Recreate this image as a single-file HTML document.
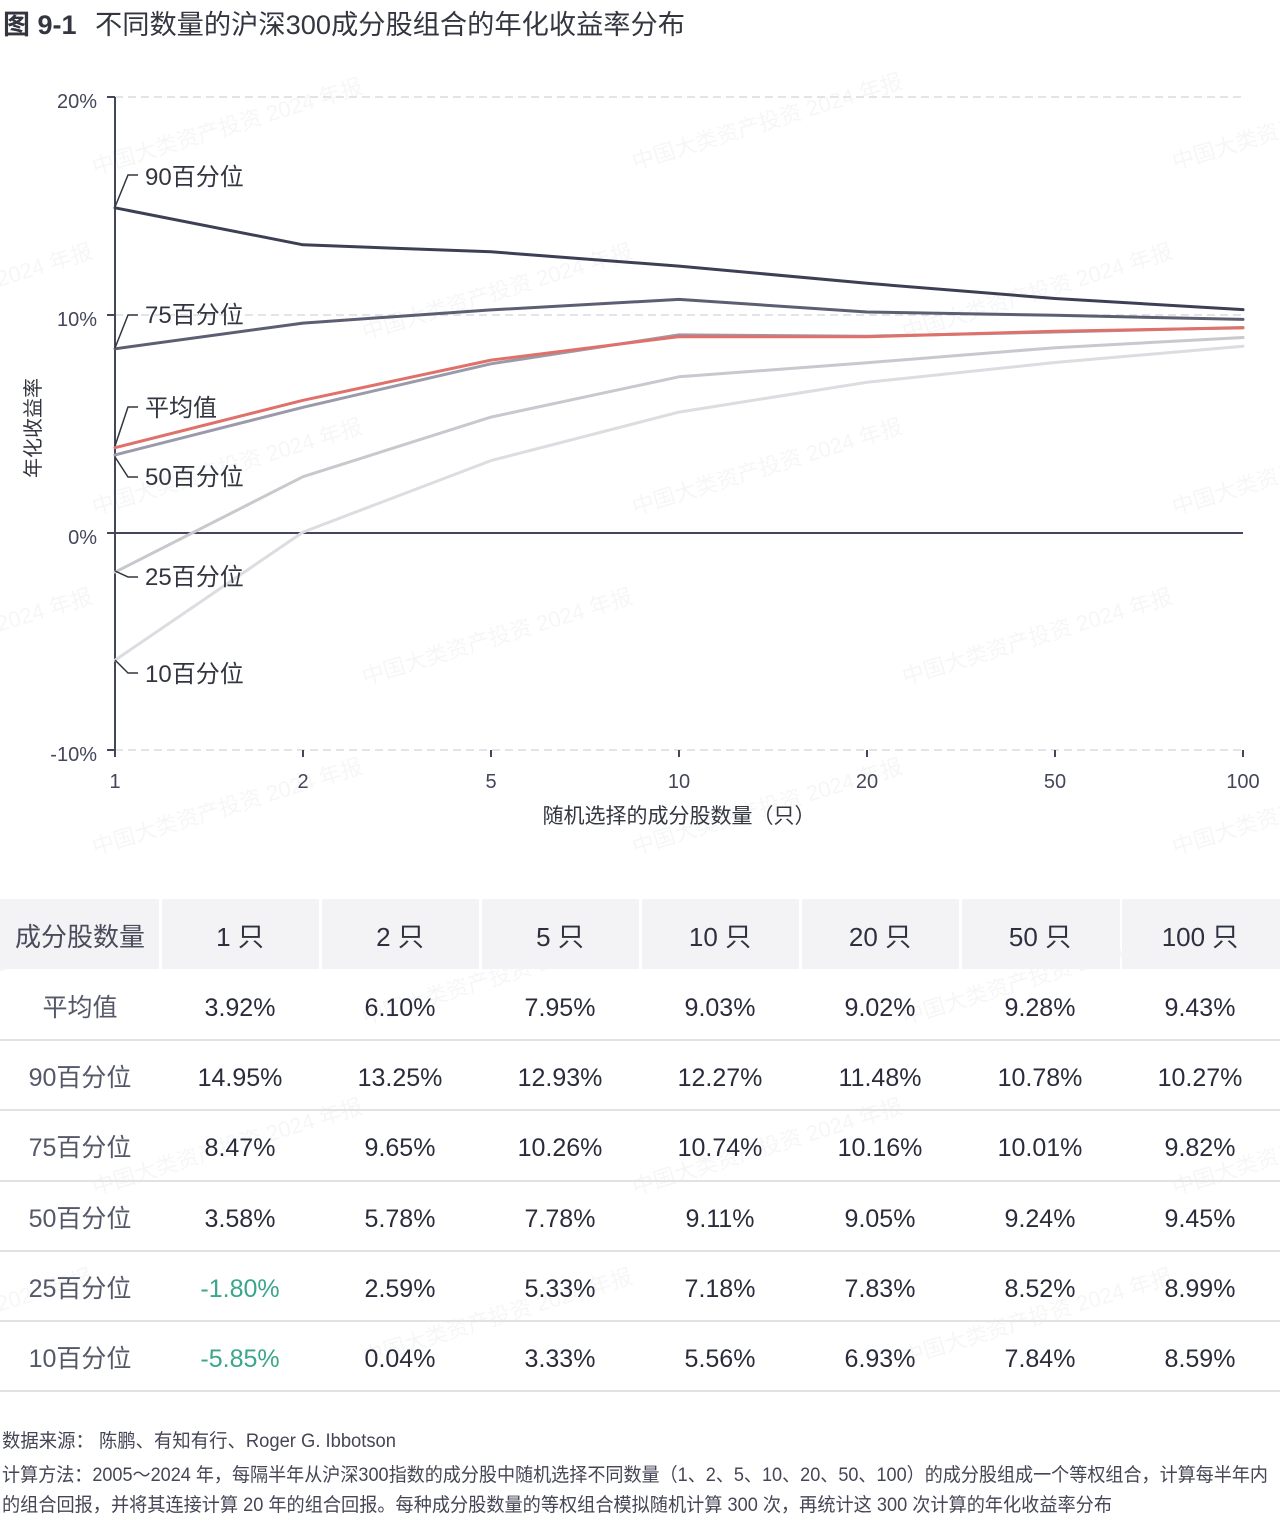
<!DOCTYPE html>
<html><head><meta charset="utf-8"><style>
html,body{margin:0;padding:0;background:#fff;}
svg{display:block;}
text{font-family:"Liberation Sans","Noto Sans CJK SC",sans-serif;}
</style></head><body>
<svg width="1280" height="1520" viewBox="0 0 1280 1520" xmlns="http://www.w3.org/2000/svg">
<!-- watermark -->
<g fill="#000" fill-opacity="0.035" font-size="22">
<text transform="translate(95,175) rotate(-17)">中国大类资产投资 2024 年报</text>
<text transform="translate(635,170) rotate(-17)">中国大类资产投资 2024 年报</text>
<text transform="translate(1175,170) rotate(-17)">中国大类资产投资 2024 年报</text>
<text transform="translate(-175,340) rotate(-17)">中国大类资产投资 2024 年报</text>
<text transform="translate(365,340) rotate(-17)">中国大类资产投资 2024 年报</text>
<text transform="translate(905,340) rotate(-17)">中国大类资产投资 2024 年报</text>
<text transform="translate(95,515) rotate(-17)">中国大类资产投资 2024 年报</text>
<text transform="translate(635,515) rotate(-17)">中国大类资产投资 2024 年报</text>
<text transform="translate(1175,515) rotate(-17)">中国大类资产投资 2024 年报</text>
<text transform="translate(-175,685) rotate(-17)">中国大类资产投资 2024 年报</text>
<text transform="translate(365,685) rotate(-17)">中国大类资产投资 2024 年报</text>
<text transform="translate(905,685) rotate(-17)">中国大类资产投资 2024 年报</text>
<text transform="translate(95,855) rotate(-17)">中国大类资产投资 2024 年报</text>
<text transform="translate(635,855) rotate(-17)">中国大类资产投资 2024 年报</text>
<text transform="translate(1175,855) rotate(-17)">中国大类资产投资 2024 年报</text>
<text transform="translate(-175,1025) rotate(-17)">中国大类资产投资 2024 年报</text>
<text transform="translate(365,1025) rotate(-17)">中国大类资产投资 2024 年报</text>
<text transform="translate(905,1025) rotate(-17)">中国大类资产投资 2024 年报</text>
<text transform="translate(95,1195) rotate(-17)">中国大类资产投资 2024 年报</text>
<text transform="translate(635,1195) rotate(-17)">中国大类资产投资 2024 年报</text>
<text transform="translate(1175,1195) rotate(-17)">中国大类资产投资 2024 年报</text>
<text transform="translate(-175,1365) rotate(-17)">中国大类资产投资 2024 年报</text>
<text transform="translate(365,1365) rotate(-17)">中国大类资产投资 2024 年报</text>
<text transform="translate(905,1365) rotate(-17)">中国大类资产投资 2024 年报</text>
</g>

<!-- title -->
<text x="3" y="34" font-size="27" font-weight="bold" fill="#333640">图 9-1</text>
<text x="95" y="34" font-size="27" fill="#333640" textLength="590" lengthAdjust="spacingAndGlyphs">不同数量的沪深300成分股组合的年化收益率分布</text>

<!-- gridlines -->
<g stroke="#dcdce0" stroke-width="1.5" stroke-dasharray="8,5">
<line x1="115" y1="97" x2="1243" y2="97"/>
<line x1="115" y1="315" x2="1243" y2="315"/>
<line x1="115" y1="750" x2="1243" y2="750"/>
</g>
<line x1="107" y1="533" x2="1243" y2="533" stroke="#44465a" stroke-width="2"/>
<!-- y axis -->
<line x1="115" y1="97" x2="115" y2="757" stroke="#44465a" stroke-width="2"/>
<g stroke="#44465a" stroke-width="2">
<line x1="107" y1="97" x2="115" y2="97"/>
<line x1="107" y1="315" x2="115" y2="315"/>
<line x1="107" y1="750" x2="115" y2="750"/>
<line x1="303" y1="750" x2="303" y2="757"/>
<line x1="491" y1="750" x2="491" y2="757"/>
<line x1="679" y1="750" x2="679" y2="757"/>
<line x1="867" y1="750" x2="867" y2="757"/>
<line x1="1055" y1="750" x2="1055" y2="757"/>
<line x1="1243" y1="750" x2="1243" y2="757"/>
</g>
<g font-size="20" fill="#44465a" text-anchor="end">
<text x="97" y="108">20%</text>
<text x="97" y="326">10%</text>
<text x="97" y="544">0%</text>
<text x="97" y="761">-10%</text>
</g>
<g font-size="20" fill="#44465a" text-anchor="middle">
<text x="115" y="788">1</text>
<text x="303" y="788">2</text>
<text x="491" y="788">5</text>
<text x="679" y="788">10</text>
<text x="867" y="788">20</text>
<text x="1055" y="788">50</text>
<text x="1243" y="788">100</text>
</g>
<text x="679" y="823" font-size="21" fill="#333640" text-anchor="middle">随机选择的成分股数量（只）</text>
<text transform="translate(40,428) rotate(-90)" font-size="20" fill="#333640" text-anchor="middle">年化收益率</text>

<!-- series: y = 533 - v*21.75 -->
<g fill="none" stroke-width="3" stroke-linejoin="round" stroke-linecap="round">
<polyline stroke="#dcdce1" points="115,660.2 303,532.1 491,460.6 679,412.1 867,382.3 1055,362.5 1243,346.2"/>
<polyline stroke="#c8c8ce" points="115,572.2 303,476.7 491,417.1 679,376.8 867,362.7 1055,347.7 1243,337.5"/>
<polyline stroke="#9a9aaa" points="115,454.9 303,407.3 491,363.8 679,334.9 867,336.2 1055,332.0 1243,327.5"/>
<polyline stroke="#e0716a" points="115,447.7 303,400.3 491,360.1 679,336.6 867,336.8 1055,331.2 1243,327.9"/>
<polyline stroke="#5c5e72" points="115,348.8 303,323.1 491,309.9 679,299.4 867,312.0 1055,315.3 1243,319.4"/>
<polyline stroke="#3d3f54" points="115,207.8 303,244.8 491,251.8 679,266.1 867,283.3 1055,298.5 1243,309.6"/>
</g>

<!-- leader lines -->
<g fill="none" stroke="#333640" stroke-width="1.5">
<polyline points="115,207 128,175 138,175"/>
<polyline points="115,348 128,315 138,315"/>
<polyline points="115,446 128,407 138,407"/>
<polyline points="115,457 128,477 138,477"/>
<polyline points="115,571 128,577 138,577"/>
<polyline points="115,660 128,673 138,673"/>
</g>
<g font-size="24" fill="#333640">
<text x="145" y="185">90百分位</text>
<text x="145" y="323">75百分位</text>
<text x="145" y="416">平均值</text>
<text x="145" y="485">50百分位</text>
<text x="145" y="585">25百分位</text>
<text x="145" y="682">10百分位</text>
</g>

<!-- table header -->
<g fill="#f3f3f6">
<rect x="0" y="899" width="159" height="70"/>
<rect x="162" y="899" width="157" height="70"/>
<rect x="322" y="899" width="157" height="70"/>
<rect x="482" y="899" width="157" height="70"/>
<rect x="642" y="899" width="157" height="70"/>
<rect x="802" y="899" width="157" height="70"/>
<rect x="962" y="899" width="158" height="70"/>
<rect x="1122" y="899" width="158" height="70"/>
</g>
<g font-size="26" fill="#2e3040" text-anchor="middle">
<text x="80" y="946" fill="#4a4c5c">成分股数量</text>
<text x="240" y="946">1 只</text>
<text x="400" y="946">2 只</text>
<text x="560" y="946">5 只</text>
<text x="720" y="946">10 只</text>
<text x="880" y="946">20 只</text>
<text x="1040" y="946">50 只</text>
<text x="1200" y="946">100 只</text>
</g>
<g stroke="#e2e2e6" stroke-width="2">
<line x1="0" y1="1040" x2="1280" y2="1040"/>
<line x1="0" y1="1110" x2="1280" y2="1110"/>
<line x1="0" y1="1181" x2="1280" y2="1181"/>
<line x1="0" y1="1251" x2="1280" y2="1251"/>
<line x1="0" y1="1321" x2="1280" y2="1321"/>
<line x1="0" y1="1391" x2="1280" y2="1391"/>
</g>
<g font-size="25" text-anchor="middle" fill="#2a2c3c">
<g fill="#555869">
<text x="80" y="1016">平均值</text>
<text x="80" y="1086">90百分位</text>
<text x="80" y="1156">75百分位</text>
<text x="80" y="1227">50百分位</text>
<text x="80" y="1297">25百分位</text>
<text x="80" y="1367">10百分位</text>
</g>
<text x="240" y="1016">3.92%</text><text x="400" y="1016">6.10%</text><text x="560" y="1016">7.95%</text><text x="720" y="1016">9.03%</text><text x="880" y="1016">9.02%</text><text x="1040" y="1016">9.28%</text><text x="1200" y="1016">9.43%</text>
<text x="240" y="1086">14.95%</text><text x="400" y="1086">13.25%</text><text x="560" y="1086">12.93%</text><text x="720" y="1086">12.27%</text><text x="880" y="1086">11.48%</text><text x="1040" y="1086">10.78%</text><text x="1200" y="1086">10.27%</text>
<text x="240" y="1156">8.47%</text><text x="400" y="1156">9.65%</text><text x="560" y="1156">10.26%</text><text x="720" y="1156">10.74%</text><text x="880" y="1156">10.16%</text><text x="1040" y="1156">10.01%</text><text x="1200" y="1156">9.82%</text>
<text x="240" y="1227">3.58%</text><text x="400" y="1227">5.78%</text><text x="560" y="1227">7.78%</text><text x="720" y="1227">9.11%</text><text x="880" y="1227">9.05%</text><text x="1040" y="1227">9.24%</text><text x="1200" y="1227">9.45%</text>
<text x="240" y="1297" fill="#3aa68a">-1.80%</text><text x="400" y="1297">2.59%</text><text x="560" y="1297">5.33%</text><text x="720" y="1297">7.18%</text><text x="880" y="1297">7.83%</text><text x="1040" y="1297">8.52%</text><text x="1200" y="1297">8.99%</text>
<text x="240" y="1367" fill="#3aa68a">-5.85%</text><text x="400" y="1367">0.04%</text><text x="560" y="1367">3.33%</text><text x="720" y="1367">5.56%</text><text x="880" y="1367">6.93%</text><text x="1040" y="1367">7.84%</text><text x="1200" y="1367">8.59%</text>
</g>

<!-- footer -->
<g font-size="19" fill="#444655">
<text x="2" y="1447" textLength="394" lengthAdjust="spacingAndGlyphs">数据来源：  陈鹏、有知有行、Roger G. Ibbotson</text>
<text x="2" y="1481" textLength="1266" lengthAdjust="spacingAndGlyphs">计算方法：2005～2024 年，每隔半年从沪深300指数的成分股中随机选择不同数量（1、2、5、10、20、50、100）的成分股组成一个等权组合，计算每半年内</text>
<text x="2" y="1511" textLength="1110" lengthAdjust="spacingAndGlyphs">的组合回报，并将其连接计算 20 年的组合回报。每种成分股数量的等权组合模拟随机计算 300 次，再统计这 300 次计算的年化收益率分布</text>
</g>
</svg>
</body></html>
